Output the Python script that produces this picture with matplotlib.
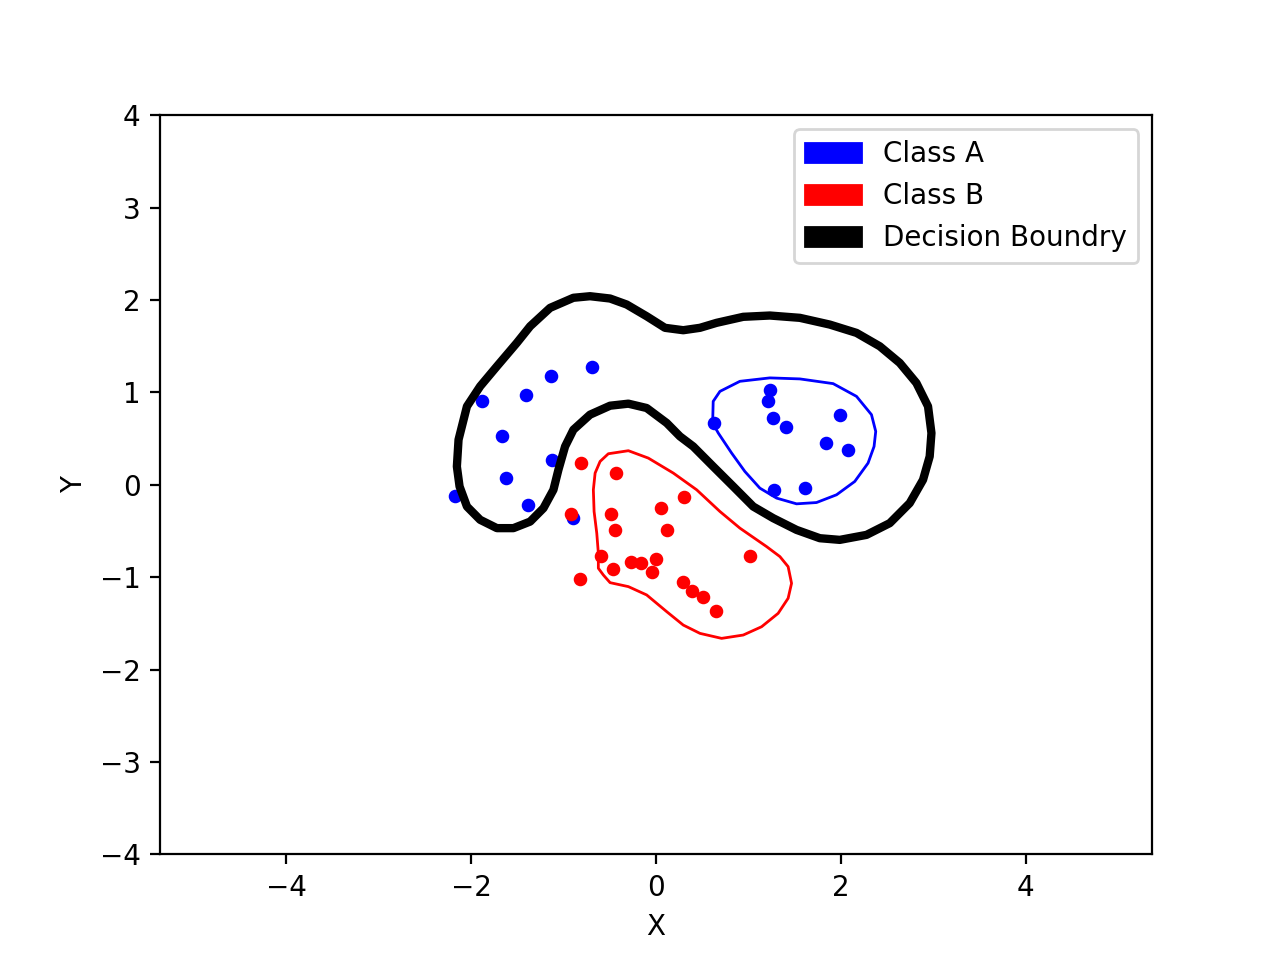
import matplotlib
matplotlib.use("Agg")
import matplotlib.pyplot as plt
import matplotlib.patches as mpatches

# Class A points
class_a_x = [-0.689, -1.132, -1.402, -1.878, -1.662, -1.124, -1.618, -2.173, -1.381, -0.903,
             1.236, 1.214, 0.627, 1.268, 1.409, 1.992, 1.841, 2.083, 1.279, 1.614]
class_a_y = [1.276, 1.178, 0.972, 0.911, 0.531, 0.268, 0.073, -0.119, -0.220, -0.354,
             1.022, 0.903, 0.672, 0.726, 0.629, 0.756, 0.452, 0.376, -0.057, -0.036]

# Class B points
class_b_x = [-0.808, -0.429, -0.916, -0.483, -0.440, 0.057, 0.303, 0.122, -0.591, -0.462,
             -0.270, -0.159, 0.003, -0.040, -0.818, 0.295, 0.386, 0.511, 0.652, 1.019]
class_b_y = [0.238, 0.130, -0.311, -0.318, -0.488, -0.253, -0.130, -0.488, -0.770, -0.911,
             -0.838, -0.849, -0.802, -0.946, -1.019, -1.051, -1.152, -1.217, -1.369, -0.770]

# Decision boundary contour (closed)
boundary_x = [-2.137, -2.046, -1.903, -1.722, -1.506, -1.362, -1.146, -0.894, -0.714, -0.497,
              -0.317, -0.101, 0.097, 0.295, 0.476, 0.656, 0.944, 1.232, 1.557, 1.881,
              2.170, 2.422, 2.638, 2.818, 2.944, 2.981, 2.962, 2.890, 2.746, 2.530,
              2.278, 1.989, 1.773, 1.521, 1.268, 1.052, 0.836, 0.619, 0.403, 0.259,
              0.116, -0.101, -0.299, -0.497, -0.714, -0.894, -0.984, -1.056, -1.110, -1.218,
              -1.362, -1.543, -1.722, -1.903, -2.046, -2.126, -2.155]
boundary_y = [0.488, 0.849, 1.066, 1.282, 1.536, 1.716, 1.915, 2.024, 2.041, 2.016,
              1.951, 1.824, 1.699, 1.673, 1.699, 1.753, 1.818, 1.832, 1.807, 1.734,
              1.644, 1.499, 1.319, 1.102, 0.849, 0.560, 0.307, 0.054, -0.198, -0.415,
              -0.542, -0.596, -0.578, -0.488, -0.361, -0.235, -0.018, 0.198, 0.415, 0.524,
              0.669, 0.831, 0.878, 0.856, 0.759, 0.596, 0.415, 0.163, -0.054, -0.253,
              -0.398, -0.469, -0.469, -0.379, -0.235, -0.018, 0.198]

# Class A contour (closed)
contour_a_x = [0.619, 0.692, 0.908, 1.232, 1.557, 1.917, 2.170, 2.332, 2.378, 2.360,
               2.295, 2.151, 1.954, 1.737, 1.521, 1.305, 1.124, 0.962, 0.818, 0.674, 0.613]
contour_a_y = [0.903, 1.011, 1.120, 1.157, 1.146, 1.095, 0.957, 0.759, 0.578, 0.415,
               0.235, 0.036, -0.108, -0.192, -0.206, -0.144, -0.036, 0.144, 0.344, 0.560, 0.669]

# Class B contour (closed)
contour_b_x = [-0.516, -0.299, -0.083, 0.187, 0.440, 0.692, 0.908, 1.197, 1.341, 1.430,
               1.467, 1.430, 1.322, 1.143, 0.944, 0.710, 0.476, 0.295, 0.116, -0.101,
               -0.299, -0.497, -0.570, -0.624, -0.624, -0.641, -0.670, -0.678, -0.659, -0.605]
contour_b_y = [0.336, 0.369, 0.289, 0.127, -0.054, -0.289, -0.469, -0.669, -0.777, -0.886,
               -1.066, -1.228, -1.391, -1.536, -1.626, -1.662, -1.608, -1.518, -1.373, -1.192,
               -1.102, -1.059, -0.976, -0.903, -0.740, -0.524, -0.289, -0.054, 0.127, 0.253]

legend_labels = ["Class A", "Class B", "Decision Boundry"]
y_limit = 4


def outline(xs, ys, color, lw):
    poly = mpatches.Polygon(list(zip(xs, ys)), closed=True, fill=False,
                            edgecolor=color, linewidth=lw, joinstyle="round")
    ax.add_patch(poly)


fig, ax = plt.subplots(figsize=(6.4, 4.8), dpi=200)

ax.scatter(class_a_x, class_a_y, s=15, c="blue")
ax.scatter(class_b_x, class_b_y, s=15, c="red")

outline(boundary_x, boundary_y, "black", 3)
outline(contour_a_x, contour_a_y, "blue", 1)
outline(contour_b_x, contour_b_y, "red", 1)

# equal aspect: y fixed to [-4, 4], x expanded to fill the axes box
pos = ax.get_position()
box_ratio = (pos.width * fig.get_figwidth()) / (pos.height * fig.get_figheight())
x_limit = y_limit * box_ratio
ax.set_ylim(-y_limit, y_limit)
ax.set_xlim(-x_limit, x_limit)
ax.set_xlabel("X")
ax.set_ylabel("Y")

handles = [mpatches.Patch(color="blue", label=legend_labels[0]),
           mpatches.Patch(color="red", label=legend_labels[1]),
           mpatches.Patch(color="black", label=legend_labels[2])]
ax.legend(handles=handles, loc="upper right")

fig.savefig("out.png", dpi=200)
